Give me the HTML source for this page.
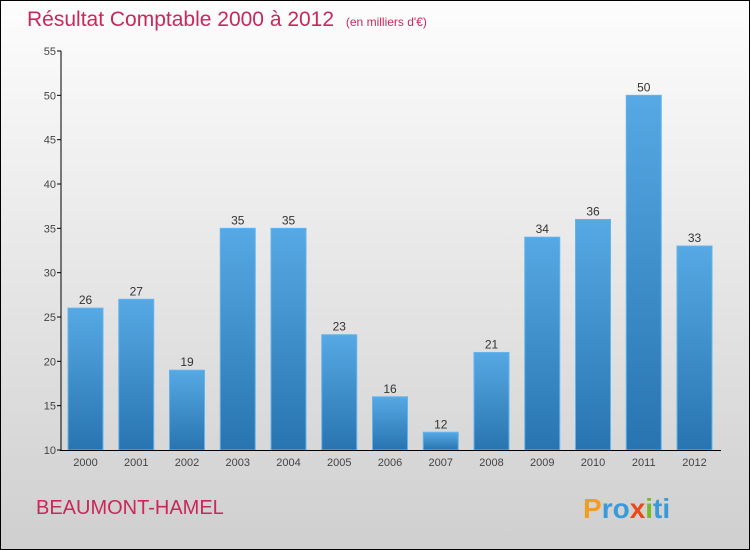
<!DOCTYPE html>
<html><head><meta charset="utf-8"><style>
body{margin:0;width:750px;height:550px;overflow:hidden}
svg{display:block;font-family:"Liberation Sans",sans-serif}
</style></head><body>
<svg id="c" width="750" height="550">
<defs>
<linearGradient id="bg" x1="0" y1="0" x2="0" y2="1"><stop offset="0" stop-color="#fdfdfd"/><stop offset="1" stop-color="#cfcfcf"/></linearGradient>
<linearGradient id="bar" x1="0" y1="0" x2="0" y2="1"><stop offset="0" stop-color="#56a9e4"/><stop offset="1" stop-color="#2874b0"/></linearGradient>
</defs>
<rect x="0.5" y="0.5" width="749" height="549" fill="url(#bg)" stroke="#000"/>
<text x="27" y="26" font-size="21" fill="#c8285a">Résultat Comptable 2000 à 2012 <tspan font-size="12" dx="6">(en milliers d'€)</tspan></text>
<text x="36" y="514" font-size="20" fill="#c8285a">BEAUMONT-HAMEL</text>
<text x="583" y="518" font-size="28" font-weight="bold"><tspan fill="#f39c1e">P</tspan><tspan fill="#3a9ad9">ro</tspan><tspan fill="#e84a1c">x</tspan><tspan fill="#7ab929">i</tspan><tspan fill="#3a9ad9">ti</tspan></text>
<g id="plot"></g>
</svg>
<script>
const categories=["2000","2001","2002","2003","2004","2005","2006","2007","2008","2009","2010","2011","2012"];
const values=[26,27,19,35,35,23,16,12,21,34,36,50,33];
const yTicks=[10,15,20,25,30,35,40,45,50,55];
const NS="http://www.w3.org/2000/svg";
const g=document.getElementById('plot');
const y=v=>450-(v-10)*(399/45);
const x=i=>68+i*50.75;
function mk(t,a){const e=document.createElementNS(NS,t);for(const k in a)e.setAttribute(k,a[k]);g.appendChild(e);return e;}
yTicks.forEach(t=>{
 const l=mk('line',{x1:57,x2:61,y1:y(t),y2:y(t),stroke:'#000'});
 
 
 const tx=mk('text',{x:56,y:y(t)+4,'font-size':11,fill:'#444','text-anchor':'end'});tx.textContent=t;
 
 
});
categories.forEach((c,i)=>{
 const v=values[i];
 const r=mk('rect',{x:x(i),y:y(v),width:35,height:450-y(v),fill:'url(#bar)',stroke:'#62b4ee','stroke-width':1});
 
 
 const vl=mk('text',{x:x(i)+17.5,y:y(v)-4,'font-size':12,fill:'#333','text-anchor':'middle'});vl.textContent=v;
 
 
 const xl=mk('text',{x:x(i)+17.5,y:466,'font-size':11,fill:'#444','text-anchor':'middle'});xl.textContent=c;
 
 
});
const ya=mk('line',{x1:61,x2:61,y1:y(55),y2:451,stroke:'#000'});


const xa=mk('line',{x1:60,x2:721,y1:450.5,y2:450.5,stroke:'#000'});


</script>
</body></html>
